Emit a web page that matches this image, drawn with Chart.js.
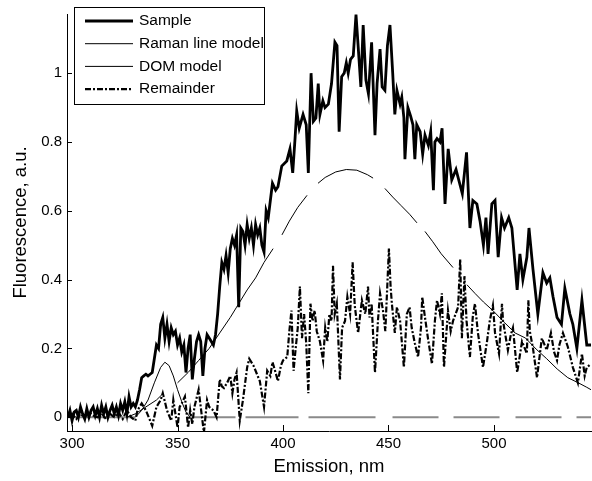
<!DOCTYPE html>
<html>
<head>
<meta charset="utf-8">
<script src="https://cdn.jsdelivr.net/npm/chart.js@4.4.1/dist/chart.umd.min.js"></script>
<style>
  body { margin: 0; background: #fff; }
  #wrap { width: 592px; height: 481px; }
</style>
</head>
<body>
<div id="wrap"><canvas id="fluo_chart" width="592" height="481"></canvas></div>
<script>
// sample spectrum (nm, a.u.)
var sampleNm = [298,299,300,301,302,303,304,305,306,307,308,309,310,311,312,313,314,315,316,317,318,319,320,321,322,323,324,325,326,327,328,329,330,331,332,333,334,335,336,337,338,339,340,341,342,343,344,345,346,347,348,349,350,351,352,353,354,355,356,357,358,359,360,361,362,363,364,365,366,367,368,369,370,371,372,373,374,375,376,377,378,379,380,381,382,383,384,385,386,387,388,389,390,391,392,393,394,395,396.5,397.6,399.4,401.8,403.3,404.6,405.7,406.5,407.7,409.5,411,412,413.3,414.4,415.6,416.7,417.5,418.9,419.9,421.5,423,424.6,425.6,426.6,427.8,429,430,430.9,432,433.3,434.6,435.6,436.9,438,439.3,440.5,442,443.6,444.6,446,447,448.3,449.5,450.7,452,453,454,455.5,456.3,457.3,457.8,459.2,460.5,461.6,462.5,463.4,465,466.2,467.3,468.9,470,471.3,472,473,474.4,475.4,476.8,478.3,480,482,485,487,488.6,490,491.9,493.4,495,496.2,497.2,499,500.5,502,503.6,505,507,508.5,511,512.3,513.7,515.6,516.6,518.5,520.8,523.2,525,526.5,528,529.9,532,533.6,536,537.4,539.3,541.7,544,546];
var sampleVal = [0.00,0.02,-0.01,0.015,0.02,0.0,0.03,0.01,-0.005,0.025,0.0,0.02,0.03,0.005,0.025,0.0,0.035,0.01,0.03,0.0,0.02,0.035,0.01,0.03,0.005,0.04,0.02,0.045,0.01,0.06,0.03,0.04,0.03,0.05,0.08,0.115,0.12,0.125,0.12,0.125,0.13,0.17,0.21,0.2,0.27,0.29,0.23,0.27,0.22,0.26,0.24,0.25,0.21,0.23,0.19,0.21,0.13,0.2,0.24,0.11,0.17,0.22,0.24,0.22,0.12,0.2,0.24,0.23,0.22,0.21,0.24,0.3,0.38,0.45,0.43,0.47,0.42,0.49,0.52,0.5,0.53,0.32,0.55,0.54,0.5,0.56,0.52,0.55,0.5,0.56,0.53,0.55,0.5,0.48,0.6,0.58,0.63,0.68,0.66,0.67,0.73,0.745,0.78,0.71,0.81,0.89,0.84,0.88,0.85,0.71,1.0,0.86,0.87,0.97,0.88,0.92,0.9,0.91,0.97,1.09,1.08,0.83,0.99,1.0,1.03,1.0,1.04,1.05,1.17,1.08,0.96,1.14,0.98,0.94,1.09,0.82,0.97,1.07,0.96,0.95,1.08,1.14,1.0,0.88,0.95,0.91,0.93,0.87,0.75,0.9,0.875,0.85,0.75,0.85,0.83,0.765,0.82,0.79,0.83,0.66,0.8,0.81,0.8,0.84,0.62,0.78,0.69,0.72,0.65,0.77,0.55,0.63,0.62,0.57,0.5,0.58,0.475,0.62,0.63,0.465,0.58,0.55,0.58,0.55,0.37,0.475,0.4,0.465,0.55,0.43,0.3,0.42,0.39,0.405,0.35,0.29,0.27,0.375,0.3,0.27,0.2,0.34,0.21,0.21];

// Raman line model
var ramanNm = [298,330,333,336,339,342,344,346,348,350,352,354,356,368,546];
var ramanVal = [0,0,0.02,0.05,0.1,0.145,0.16,0.15,0.12,0.08,0.045,0.015,0,0,0];

// DOM model
var domNm = [326,330,335,340,343,346,350,355,360,365,370,375,378,383,387,391,395.3,399.5,403,407,411.4,416.6,420,425,430,435,440,442.7,448.3,452,456,460,463.5,467.3,471,475,480.6,487.2,491,495,499.5,505,510,515,520,525,530,535,540,544,546];
var domVal = [0.0,0.01,0.03,0.05,0.068,0.08,0.10,0.13,0.165,0.2,0.245,0.29,0.32,0.37,0.405,0.45,0.49,0.53,0.57,0.61,0.645,0.68,0.697,0.713,0.72,0.718,0.705,0.695,0.665,0.64,0.615,0.59,0.565,0.54,0.51,0.475,0.435,0.385,0.36,0.335,0.31,0.275,0.245,0.23,0.198,0.17,0.14,0.115,0.1,0.087,0.08];
var domGaps = [[343,350.2],[395.3,399.5],[411.4,416.6],[442.7,448.3],[463.5,467.3],[480.6,487.2]];

// remainder
var remNm = [298,300,302,304,306,308,310,312,314,316,318,320,322,324,326,328,330,331,333,335,337,338,340,342,343,345,347,348,350,351,352,353.5,355,356,357,358,360,361,362.5,364,365,367,368.5,370,371,372,373.5,375,376,377,378,379.5,381,383,384,386,387,389,391,392.5,394,395,396,397.6,399,400,402,403,404,405,406,407,408,409,410,411,412,413,414,415,416,417.5,419,420,421,422,423,423.7,424.5,425.5,427,428,429.4,430.5,431.8,433,434,435.6,437.4,439,440.3,441,442,443.6,445,446,447.4,448.5,450.2,451,451.6,453,454,455.5,457.3,458.7,460,461,462.5,464,465.4,466,467.3,468.7,470.6,472,473,474.4,475.3,476.3,478.2,479.5,480.6,483,484,484.8,486,487,488.6,490,491,492.4,494.8,496.7,498,499.5,500.5,502.4,503.8,504.3,506.6,508,509,511,513.3,515.6,516.3,517,518.5,520.4,522.7,525,527,528.5,529.9,531,532.7,535,537.4,539.8,541.7,543,544,546];
var remVal = [0.0,0.01,-0.005,0.01,0.0,0.015,0.005,0.0,0.012,-0.005,0.01,0.0,0.015,-0.005,0.02,0.0,-0.01,0.02,0.04,0.02,-0.01,-0.025,0.03,0.05,0.07,0.02,-0.01,0.05,-0.03,0.03,0.04,0.06,-0.03,0.02,-0.02,0.03,0.08,0.03,-0.045,0.05,0.03,0.02,0.0,0.11,0.09,0.085,0.1,0.12,0.07,0.11,0.13,-0.01,0.05,0.145,0.17,0.15,0.135,0.105,0.03,0.135,0.12,0.16,0.14,0.105,0.15,0.165,0.175,0.25,0.31,0.135,0.2,0.26,0.38,0.23,0.3,0.215,0.07,0.33,0.28,0.31,0.25,0.22,0.165,0.26,0.22,0.3,0.28,0.44,0.3,0.33,0.11,0.26,0.28,0.35,0.3,0.45,0.325,0.245,0.34,0.3,0.38,0.29,0.33,0.13,0.28,0.36,0.31,0.25,0.49,0.38,0.33,0.245,0.32,0.28,0.145,0.3,0.32,0.26,0.215,0.175,0.26,0.35,0.29,0.23,0.155,0.28,0.34,0.3,0.36,0.145,0.31,0.25,0.28,0.32,0.46,0.23,0.41,0.28,0.175,0.295,0.33,0.245,0.145,0.22,0.28,0.325,0.245,0.185,0.33,0.28,0.195,0.24,0.26,0.13,0.22,0.185,0.34,0.25,0.2,0.115,0.23,0.195,0.245,0.19,0.165,0.21,0.245,0.205,0.145,0.1,0.185,0.12,0.145,0.155];

var xTicks = [300,350,400,450,500];
var yTicks = [0,0.2,0.4,0.6,0.8,1];

function pts(xs, ys) {
    return xs.map(function(x, i){ return {x: x, y: ys[i]}; });
}
function inDomGap(ctx) {
    var mid = (ctx.p0.parsed.x + ctx.p1.parsed.x) / 2;
    for (var i = 0; i < domGaps.length; i++) {
        if (mid > domGaps[i][0] && mid < domGaps[i][1]) return true;
    }
    return false;
}

var FONT = "'Liberation Sans', Arial, sans-serif";

// inward tick marks, like the original plot
var inTicks = {
    id: 'inTicks',
    afterDraw: function(chart) {
        var c = chart.ctx, a = chart.chartArea;
        var xs = chart.scales.x, ys = chart.scales.y;
        c.save();
        c.strokeStyle = '#000';
        c.lineWidth = 1;
        c.beginPath();
        xTicks.forEach(function(v){
            var px = Math.round(xs.getPixelForValue(v)) + 0.5;
            c.moveTo(px, a.bottom); c.lineTo(px, a.bottom - 6);
        });
        yTicks.forEach(function(v){
            var py = Math.round(ys.getPixelForValue(v)) + 0.5;
            c.moveTo(a.left, py); c.lineTo(a.left + 5, py);
        });
        c.stroke();
        c.restore();
    }
};

// boxed legend in the upper left of the plot
var boxLegend = {
    id: 'boxLegend',
    afterDraw: function(chart) {
        var c = chart.ctx;
        var x0 = 74.5, y0 = 7.5, w = 190, h = 97;
        c.save();
        c.fillStyle = '#fff';
        c.fillRect(x0, y0, w, h);
        c.strokeStyle = '#000';
        c.lineWidth = 1;
        c.strokeRect(x0, y0, w, h);
        c.font = '15.5px ' + FONT;
        c.textBaseline = 'middle';
        chart.data.datasets.forEach(function(ds, i){
            var y = 21 + i * 22.7;
            c.beginPath();
            c.lineWidth = ds.borderWidth;
            c.strokeStyle = '#000';
            c.setLineDash(ds.borderDash || []);
            c.moveTo(85, y); c.lineTo(133, y);
            c.stroke();
            c.setLineDash([]);
            c.fillStyle = '#000';
            c.fillText(ds.label, 139, y);
        });
        c.restore();
    }
};

const dt = {
    datasets: [
    {
        label: 'Sample',
        data: pts(sampleNm, sampleVal),
        borderColor: '#000',
        borderWidth: 2.8,
        order: 2
    },
    {
        label: 'Raman line model',
        data: pts(ramanNm, ramanVal),
        borderColor: '#000',
        borderWidth: 1,
        order: 4,
        segment: {
            borderColor: function(ctx){
                return (ctx.p0.parsed.y === 0 && ctx.p1.parsed.y === 0) ? '#8a8a8a' : '#000';
            },
            borderWidth: function(ctx){
                return (ctx.p0.parsed.y === 0 && ctx.p1.parsed.y === 0) ? 2 : 1;
            },
            borderDash: function(ctx){
                return ctx.p0.parsed.x >= 368 ? [20,10,53,10,67,17,46,15,46,16,46,15,46,15] : undefined;
            }
        }
    },
    {
        label: 'DOM model',
        data: pts(domNm, domVal),
        borderColor: '#000',
        borderWidth: 1,
        order: 3,
        segment: {
            borderColor: function(ctx){ return inDomGap(ctx) ? 'rgba(0,0,0,0)' : '#000'; }
        }
    },
    {
        label: 'Remainder',
        data: pts(remNm, remVal),
        borderColor: '#000',
        borderWidth: 2.2,
        borderDash: [6,2,2,2],
        order: 1
    }
    ]
};

const config_fluo = {
    type: 'line',
    data: dt,
    options: {
        responsive: false,
        animation: false,
        layout: { padding: { top: 12, right: 1, left: 0, bottom: 0 } },
        elements: { point: { radius: 0 }, line: { tension: 0 } },
        plugins: { legend: { display: false }, tooltip: { enabled: false } },
        scales: {
            x: {
                type: 'linear',
                min: 297.6,
                max: 546,
                grid: { display: false, drawTicks: false },
                border: { display: true, color: '#000', width: 1 },
                afterBuildTicks: function(s){ s.ticks = xTicks.map(function(v){ return {value: v}; }); },
                afterFit: function(s){ s.height = 50; },
                ticks: {
                    color: '#000', padding: 4, maxRotation: 0, autoSkip: false,
                    font: { family: FONT, size: 15 },
                    callback: function(v){ return String(v); }
                },
                title: {
                    display: true, text: 'Emission, nm', color: '#000',
                    font: { family: FONT, size: 18.5 },
                    padding: { top: 0, bottom: 3 }
                }
            },
            y: {
                min: -0.04,
                max: 1.172,
                grid: { display: false, drawTicks: false },
                border: { display: true, color: '#000', width: 1 },
                afterBuildTicks: function(s){ s.ticks = yTicks.map(function(v){ return {value: v}; }); },
                afterFit: function(s){ s.width = 67; },
                ticks: {
                    color: '#000', padding: 5, autoSkip: false,
                    font: { family: FONT, size: 15 },
                    callback: function(v){ return String(v); }
                },
                title: {
                    display: true, text: 'Fluorescence, a.u.', color: '#000',
                    font: { family: FONT, size: 18.5 },
                    padding: { top: 10, bottom: 0 }
                }
            }
        }
    },
    plugins: [inTicks, boxLegend]
};

const fluo_chart = new Chart(
    document.getElementById('fluo_chart'),
    config_fluo
);
</script>
</body>
</html>
